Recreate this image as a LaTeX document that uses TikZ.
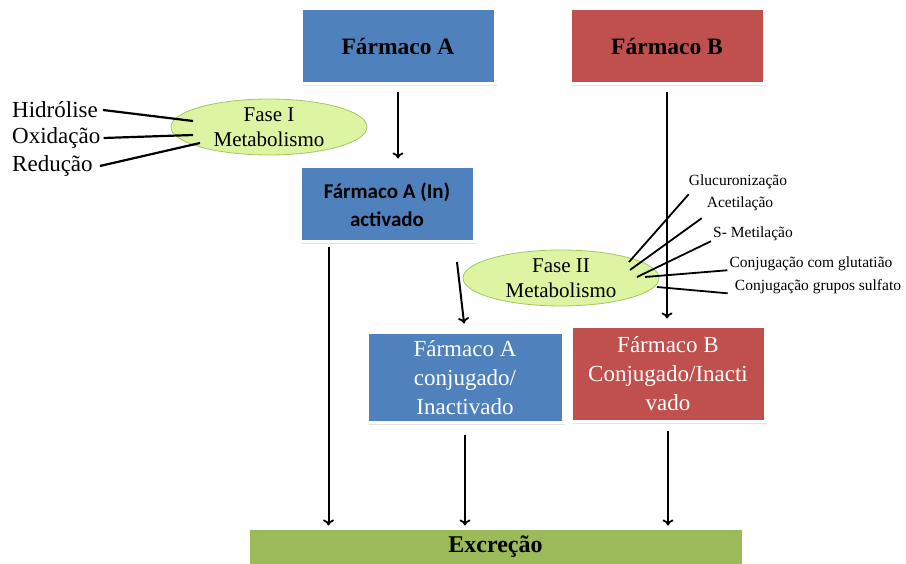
\documentclass[tikz,border=0pt]{standalone}
\usepackage{fontspec}
\setmainfont{Liberation Serif}
\newfontfamily\calibri{Carlito}
\usetikzlibrary{shapes.geometric,shadows,calc,arrows.meta}

\definecolor{drugblue}{HTML}{4F81BD}
\definecolor{drugred}{HTML}{C0504D}
\definecolor{excgreen}{HTML}{9BBB59}
\definecolor{phasefill}{HTML}{DDF4A2}
\definecolor{phaseline}{HTML}{A3C660}

\tikzset{drugbox/.style n args={3}{
    draw=white,
    line width=3pt,
    rectangle,
    fill=#1,
    anchor=north west,
    inner sep=0pt,
    minimum width=#2,
    minimum height=#3,
    drop shadow={opacity=0.22,shadow xshift=2pt,shadow yshift=-2.5pt},
    align=center
}}
\tikzset{phase/.style={
    ellipse,
    draw=phaseline,
    line width=0.8pt,
    fill=phasefill,
    minimum width=196pt,
    minimum height=56pt,
    inner sep=0pt,
    align=center,
    font=\fontsize{21}{25}\selectfont
}}
\tikzset{lab/.style={inner sep=2pt, anchor=west, font=\fontsize{23}{23}\selectfont}}
\tikzset{tag/.style={inner sep=1pt, font=\fontsize{15.5}{15.5}\selectfont}}
\tikzset{link/.style={line width=2.2pt}}
\tikzset{flow/.style={line width=2pt, -{To[length=6pt,width=11pt,line width=1.8pt]}}}

\begin{document}
\begin{tikzpicture}[x=1pt,y=-1pt]
    \useasboundingbox (0,0) rectangle (906,564);

    % The drugs on top.
    \node[drugbox={drugblue}{194}{75},font=\bfseries\fontsize{23.5}{26}\selectfont] (farmA) at (299.5,7.5) {Fármaco A};
    \node[drugbox={drugred}{194}{75},font=\bfseries\fontsize{23.5}{26}\selectfont] (farmB) at (568.5,7.5) {Fármaco B};

    % Products of phase I and phase II.
    \node[drugbox={drugblue}{174}{75},font=\calibri\bfseries\fontsize{21}{28}\selectfont] (ainact) at (298.5,165.5) {Fármaco A (In)\\activado};
    \node[drugbox={drugblue}{196}{89},text=white,font=\fontsize{23}{29}\selectfont] (aconj) at (365.5,331.5) {Fármaco A\\conjugado/\\Inactivado};
    \node[drugbox={drugred}{194}{94},text=white,font=\fontsize{23}{29}\selectfont] (bconj) at (569.5,325.5) {Fármaco B\\Conjugado/Inacti\\vado};

    % Excretion bar.
    \node[drugbox={excgreen}{495}{37},font=\bfseries\fontsize{24}{26}\selectfont] (excr) at (246.5,526.5) {Excreção};

    % The two metabolism phases.
    \node[phase] (fase1) at (269,127) {Fase I\\Metabolismo};
    \node[phase] (fase2) at (561,278) {Fase II\\Metabolismo};

    % Phase I reactions.
    \node[lab] (hidr) at (10,110) {Hidrólise};
    \node[lab] (oxid) at (10,138) {Oxidação};
    \node[lab] (redu) at (10,166) {Redução};
    \draw[link] ([xshift=3pt]hidr.east) -- ($(fase1)+(-76,-6)$);
    \draw[link] ([xshift=1pt]oxid.east) -- ($(fase1)+(-76,8)$);
    \draw[link] ([xshift=5pt]redu.east) -- ($(fase1)+(-69,16)$);

    % Phase II reactions.
    \node[tag] (gluc) at (738,182) {Glucuronização};
    \node[tag] (acet) at (740,204) {Acetilação};
    \node[tag] (meti) at (753,234) {S- Metilação};
    \node[tag] (glut) at (811,264) {Conjugação com glutatião};
    \node[tag] (sulf) at (818,287) {Conjugação grupos sulfato};
    \draw[link,line width=1.8pt] ($(gluc.south west)+(1,4)$) -- ($(fase2)+(68,-16)$);
    \draw[link,line width=1.8pt] ($(acet.south west)+(-4,6)$) -- ($(fase2)+(69,-8)$);
    \draw[link,line width=1.8pt] ($(meti.south west)+(-1,-1)$) -- ($(fase2)+(76,-1)$);
    \draw[link,line width=1.8pt] ($(glut.south west)+(-1,-2)$) -- ($(fase2)+(84,-1)$);
    \draw[link,line width=1.8pt] ($(sulf.south west)+(-6,-2)$) -- ($(fase2)+(96,9)$);

    % Arrows.
    \coordinate (ain2) at (457,262);
    \coordinate (aout) at ($(ainact.south west)+(30,0)$);
    \draw[flow,shorten <=7pt,shorten >=7pt] (farmA.south) -- (farmA.south |- ainact.north);
    \draw[flow,shorten <=4pt,shorten >=1pt] (aout) -- (aout |- excr.north);
    \draw[flow,shorten >=8pt] (ain2) -- (aconj.north);
    \draw[flow,shorten <=7pt,shorten >=7pt] (farmB.south) -- (farmB.south |- bconj.north);
    \draw[flow,shorten <=11pt,shorten >=1pt] (aconj.south) -- (aconj.south |- excr.north);
    \draw[flow,shorten <=8pt,shorten >=1pt] (bconj.south) -- (bconj.south |- excr.north);

\end{tikzpicture}
\end{document}
